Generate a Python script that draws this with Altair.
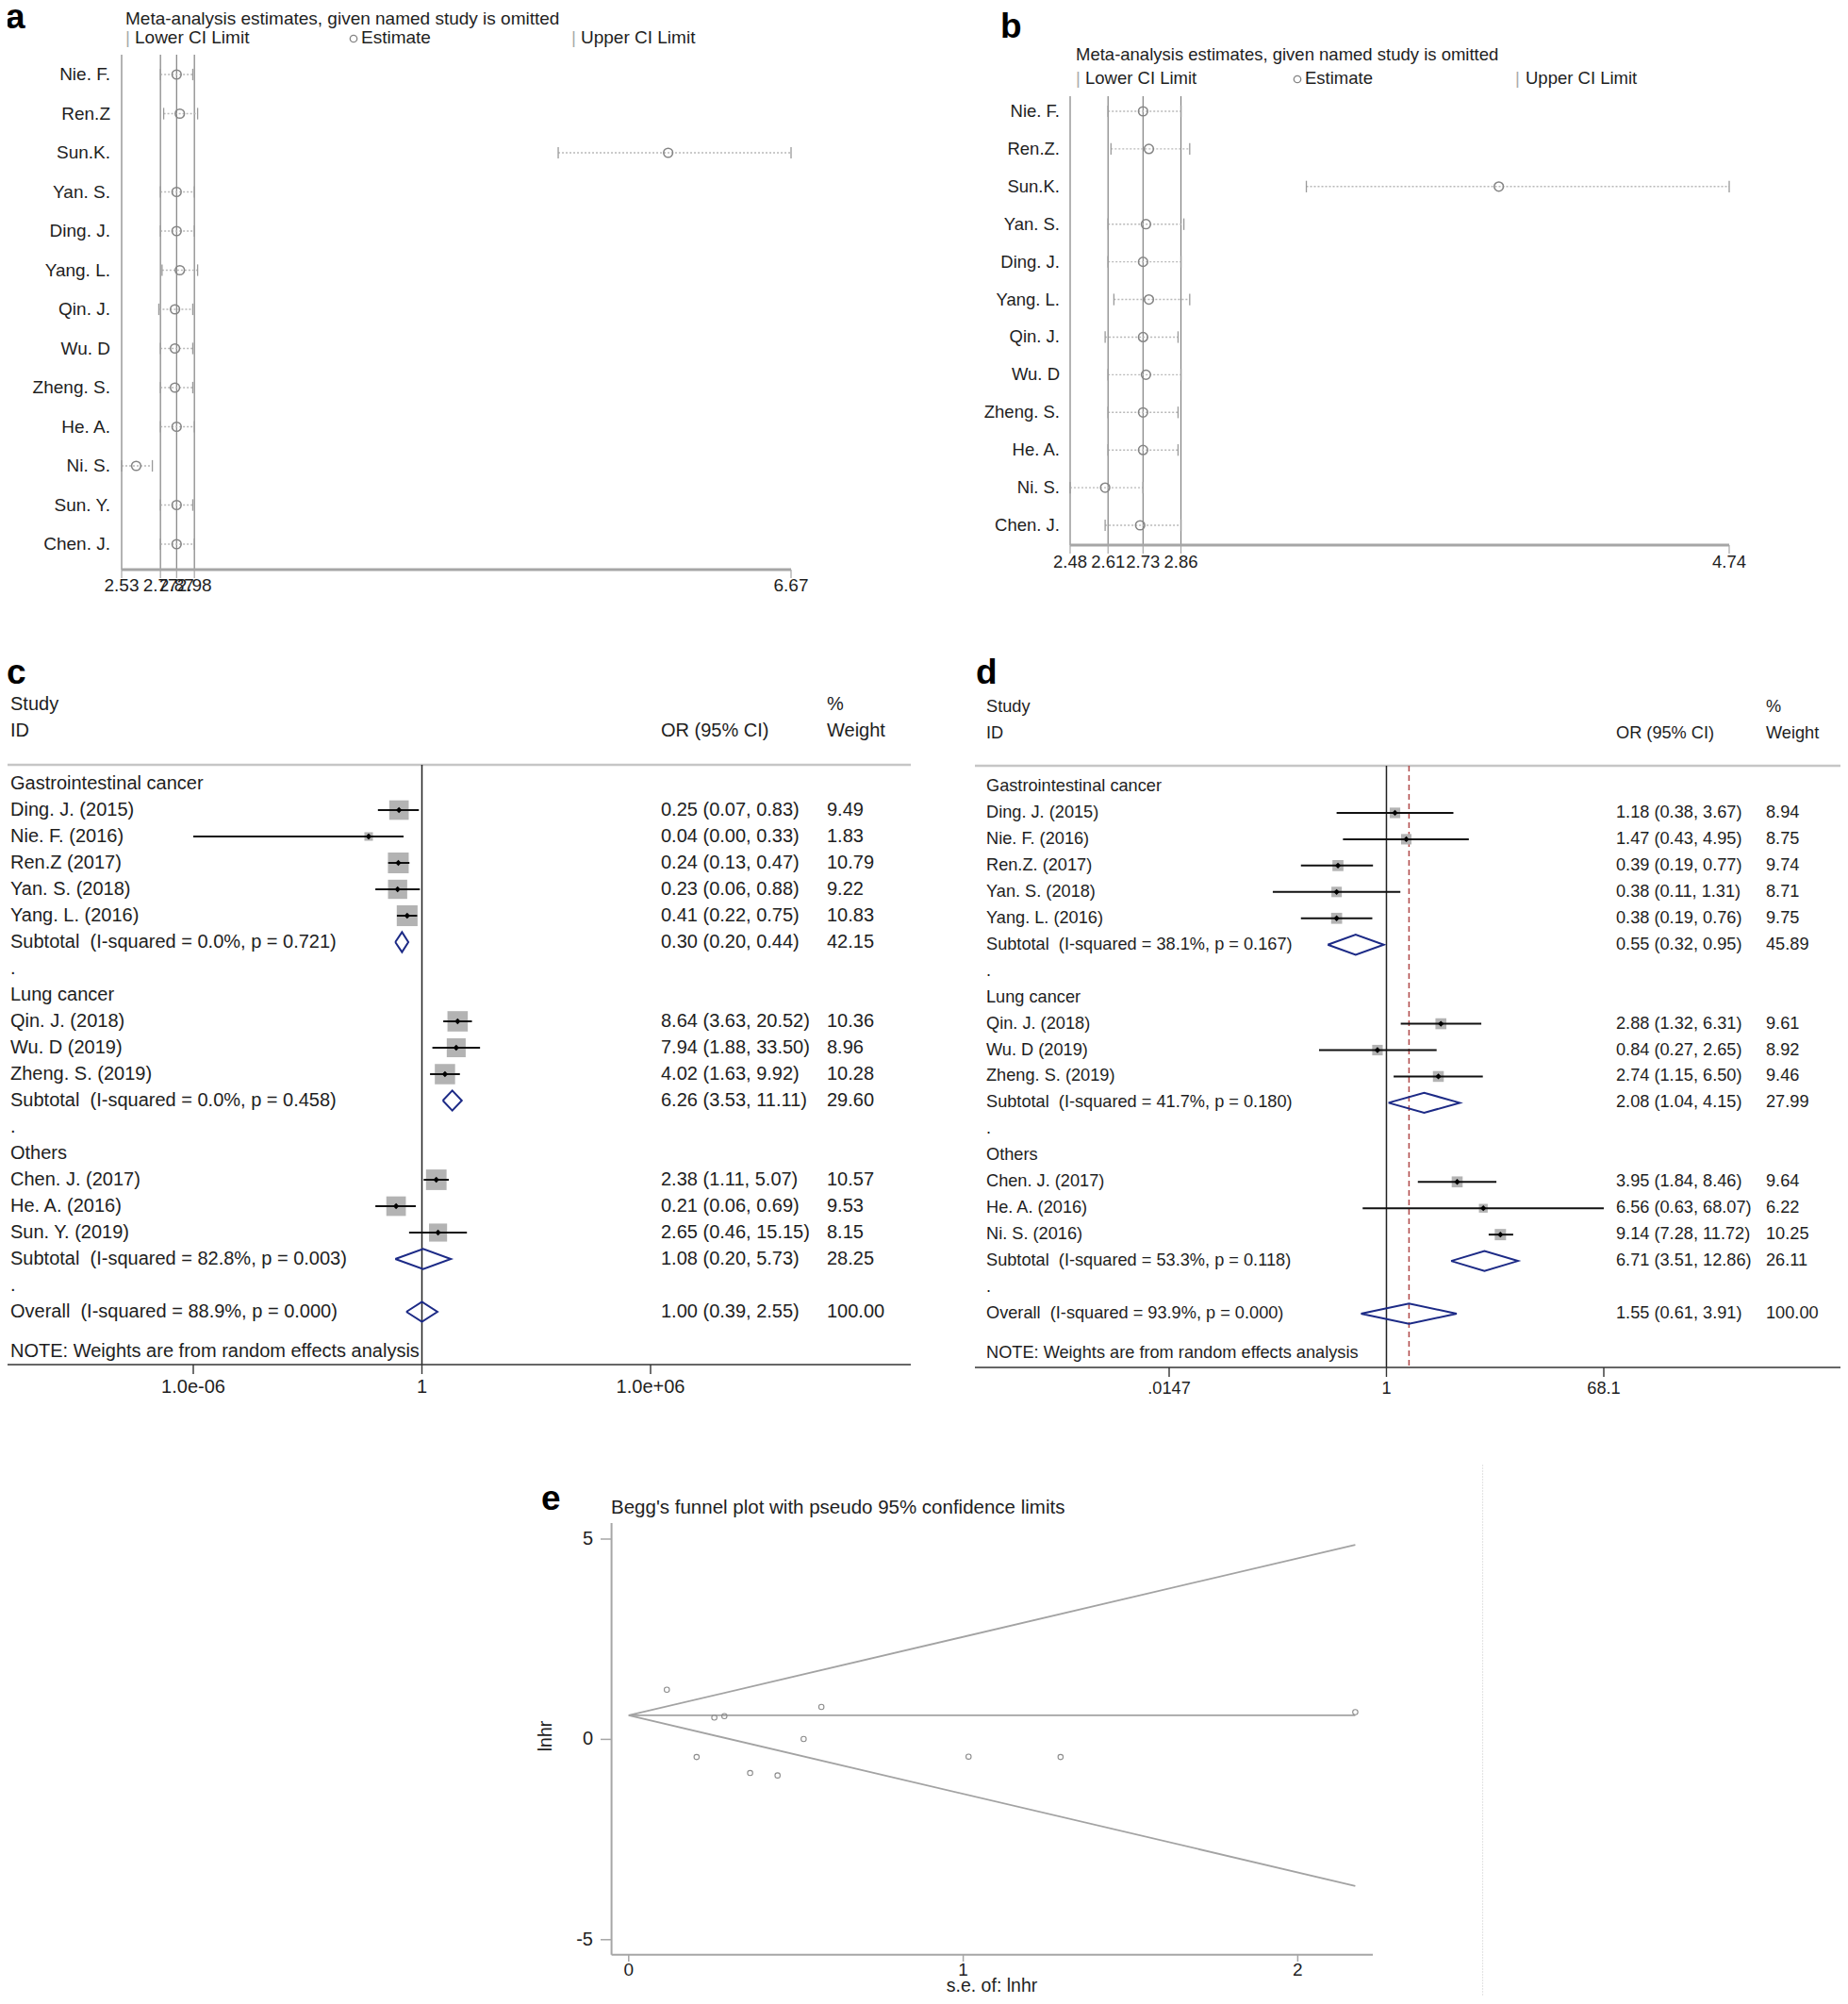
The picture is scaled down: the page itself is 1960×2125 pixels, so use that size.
import altair as alt
import pandas as pd

OFF = 8
W, H = 1944, 2109
FONT = "Liberation Sans, Arial, Helvetica, sans-serif"
INK = "#1e1e1e"
NAVY = "#1c2a86"

# ---------------- Panel a data ----------------
a_title = "Meta-analysis estimates, given named study is omitted"
a_studies = ["Nie. F.", "Ren.Z", "Sun.K.", "Yan. S.", "Ding. J.", "Yang. L.", "Qin. J.",
             "Wu. D", "Zheng. S.", "He. A.", "Ni. S.", "Sun. Y.", "Chen. J."]
a_low = [2.77, 2.79, 5.23, 2.77, 2.77, 2.78, 2.76, 2.77, 2.77, 2.77, 2.53, 2.77, 2.77]
a_est = [2.87, 2.89, 5.91, 2.87, 2.87, 2.89, 2.86, 2.86, 2.86, 2.87, 2.62, 2.87, 2.87]
a_up = [2.97, 3.00, 6.67, 2.98, 2.98, 3.00, 2.97, 2.97, 2.97, 2.98, 2.72, 2.97, 2.98]
a_ticks = [2.53, 2.77, 2.87, 2.98, 6.67]
a_lines = [2.53, 2.77, 2.87, 2.98]

# ---------------- Panel b data ----------------
b_studies = ["Nie. F.", "Ren.Z.", "Sun.K.", "Yan. S.", "Ding. J.", "Yang. L.", "Qin. J.",
             "Wu. D", "Zheng. S.", "He. A.", "Ni. S.", "Chen. J."]
b_low = [2.61, 2.62, 3.29, 2.61, 2.61, 2.63, 2.60, 2.61, 2.61, 2.61, 2.48, 2.60]
b_est = [2.73, 2.75, 3.95, 2.74, 2.73, 2.75, 2.73, 2.74, 2.73, 2.73, 2.60, 2.72]
b_up = [2.86, 2.89, 4.74, 2.87, 2.86, 2.89, 2.85, 2.86, 2.85, 2.85, 2.73, 2.86]
b_ticks = [2.48, 2.61, 2.73, 2.86, 4.74]
b_lines = [2.48, 2.61, 2.73, 2.86]

legend_labels = ["Lower CI Limit", "Estimate", "Upper CI Limit"]

# ---------------- Panel c data ----------------
kinds = ["g", "s", "s", "s", "s", "s", "t", ".", "g", "s", "s", "s", "t", ".",
         "g", "s", "s", "s", "t", ".", "o"]
c_rows = ["Gastrointestinal cancer", "Ding. J. (2015)", "Nie. F. (2016)", "Ren.Z (2017)",
          "Yan. S. (2018)", "Yang. L. (2016)", "Subtotal  (I-squared = 0.0%, p = 0.721)", ".",
          "Lung cancer", "Qin. J. (2018)", "Wu. D (2019)", "Zheng. S. (2019)",
          "Subtotal  (I-squared = 0.0%, p = 0.458)", ".", "Others", "Chen. J. (2017)",
          "He. A. (2016)", "Sun. Y. (2019)", "Subtotal  (I-squared = 82.8%, p = 0.003)", ".",
          "Overall  (I-squared = 88.9%, p = 0.000)"]
c_or = [None, 0.25, 0.04, 0.24, 0.23, 0.41, 0.30, None, None, 8.64, 7.94, 4.02, 6.26, None,
        None, 2.38, 0.21, 2.65, 1.08, None, 1.00]
c_lo = [None, 0.07, 0.000001, 0.13, 0.06, 0.22, 0.20, None, None, 3.63, 1.88, 1.63, 3.53, None,
        None, 1.11, 0.06, 0.46, 0.20, None, 0.39]
c_hi = [None, 0.83, 0.33, 0.47, 0.88, 0.75, 0.44, None, None, 20.52, 33.50, 9.92, 11.11, None,
        None, 5.07, 0.69, 15.15, 5.73, None, 2.55]
c_wt = [None, 9.49, 1.83, 10.79, 9.22, 10.83, 42.15, None, None, 10.36, 8.96, 10.28, 29.60, None,
        None, 10.57, 9.53, 8.15, 28.25, None, 100.00]
c_ticks = [1e-6, 1.0, 1e6]
c_ticklabels = ["1.0e-06", "1", "1.0e+06"]

# ---------------- Panel d data ----------------
d_rows = ["Gastrointestinal cancer", "Ding. J. (2015)", "Nie. F. (2016)", "Ren.Z. (2017)",
          "Yan. S. (2018)", "Yang. L. (2016)", "Subtotal  (I-squared = 38.1%, p = 0.167)", ".",
          "Lung cancer", "Qin. J. (2018)", "Wu. D (2019)", "Zheng. S. (2019)",
          "Subtotal  (I-squared = 41.7%, p = 0.180)", ".", "Others", "Chen. J. (2017)",
          "He. A. (2016)", "Ni. S. (2016)", "Subtotal  (I-squared = 53.3%, p = 0.118)", ".",
          "Overall  (I-squared = 93.9%, p = 0.000)"]
d_or = [None, 1.18, 1.47, 0.39, 0.38, 0.38, 0.55, None, None, 2.88, 0.84, 2.74, 2.08, None,
        None, 3.95, 6.56, 9.14, 6.71, None, 1.55]
d_lo = [None, 0.38, 0.43, 0.19, 0.11, 0.19, 0.32, None, None, 1.32, 0.27, 1.15, 1.04, None,
        None, 1.84, 0.63, 7.28, 3.51, None, 0.61]
d_hi = [None, 3.67, 4.95, 0.77, 1.31, 0.76, 0.95, None, None, 6.31, 2.65, 6.50, 4.15, None,
        None, 8.46, 68.07, 11.72, 12.86, None, 3.91]
d_wt = [None, 8.94, 8.75, 9.74, 8.71, 9.75, 45.89, None, None, 9.61, 8.92, 9.46, 27.99, None,
        None, 9.64, 6.22, 10.25, 26.11, None, 100.00]
d_ticks = [0.0147, 1.0, 68.1]
d_ticklabels = [".0147", "1", "68.1"]

note_text = "NOTE: Weights are from random effects analysis"

# ---------------- Panel e data ----------------
e_title = "Begg's funnel plot with pseudo 95% confidence limits"
e_se = [0.114, 0.203, 0.256, 0.286, 0.363, 0.445, 0.523, 0.576, 1.016, 1.291, 2.172]
e_lnhr = [1.24, -0.44, 0.545, 0.58, -0.84, -0.90, 0.01, 0.81, -0.43, -0.44, 0.68]
e_pooled = 0.60
e_xticks = [0, 1, 2]
e_yticks = [-5, 0, 5]

layers = []


def px(v):
    return alt.value(v - OFF)


def lin(domain, rng):
    return alt.Scale(type="linear", domain=domain, range=[rng[0] - OFF, rng[1] - OFF],
                     nice=False, zero=False)


def logs(domain, rng):
    return alt.Scale(type="log", domain=domain, range=[rng[0] - OFF, rng[1] - OFF], nice=False)


def label(txt, x, y, size, align="left", weight="normal", color=INK, baseline="middle", angle=0):
    layers.append(
        alt.Chart(pd.DataFrame({"t": [txt]}))
        .mark_text(align=align, baseline=baseline, fontSize=size, fontWeight=weight,
                   color=color, font=FONT, angle=angle)
        .encode(x=px(x), y=px(y), text="t:N")
    )


def hrule(x1, x2, y, color, w, dash=None):
    kw = {} if dash is None else {"strokeDash": dash}
    layers.append(
        alt.Chart(pd.DataFrame({"k": [0]})).mark_rule(color=color, strokeWidth=w, **kw)
        .encode(x=px(x1), x2=px(x2), y=px(y))
    )


def vrule(x, y1, y2, color, w, dash=None):
    kw = {} if dash is None else {"strokeDash": dash}
    layers.append(
        alt.Chart(pd.DataFrame({"k": [0]})).mark_rule(color=color, strokeWidth=w, **kw)
        .encode(x=px(x), y=px(y1), y2=px(y2))
    )


def influence(studies, low, est, up, ticks, lines, xr, yr, vtop, axis_y, ticklab_y,
              lab_right, fs, title, title_y, title_x, leg_y, leg_x):
    n = len(studies)
    dom = [ticks[0], ticks[-1]]
    xs = lin(dom, xr)
    ys = lin([0, n - 1], yr)

    def X(f):
        return alt.X(f, type="quantitative", scale=xs, axis=None)

    Y = alt.Y("row:Q", scale=ys, axis=None)
    df = pd.DataFrame({"row": list(range(n)), "study": studies, "low": low, "est": est, "up": up})
    layers.append(alt.Chart(pd.DataFrame({"v": lines})).mark_rule(color="#808080", strokeWidth=1.2)
                  .encode(x=X("v"), y=px(vtop), y2=px(axis_y)))
    layers.append(alt.Chart(df).mark_rule(color="#b8b8b8", strokeWidth=1.4, strokeDash=[2, 2])
                  .encode(x=X("low"), x2=alt.X2("up:Q"), y=Y))
    caps = pd.DataFrame({"row": list(range(n)) * 2, "v": list(low) + list(up)})
    layers.append(alt.Chart(caps).mark_point(shape="M0,-1L0,1", size=150, filled=False,
                                             color="#9a9a9a", strokeWidth=1.3, opacity=1)
                  .encode(x=X("v"), y=Y))
    layers.append(alt.Chart(df).mark_point(shape="circle", size=95, filled=False, color="#858585",
                                           strokeWidth=1.5, opacity=1)
                  .encode(x=X("est"), y=Y))
    layers.append(alt.Chart(df).mark_text(align="right", baseline="middle", fontSize=fs,
                                          font=FONT, color=INK)
                  .encode(x=px(lab_right), y=Y, text="study:N"))
    ax = pd.DataFrame({"a": [dom[0]], "b": [dom[1]]})
    layers.append(alt.Chart(ax).mark_rule(color="#a6a6a6", strokeWidth=3)
                  .encode(x=X("a"), x2=alt.X2("b:Q"), y=px(axis_y)))
    tdf = pd.DataFrame({"v": ticks, "t": [f"{t:.2f}" for t in ticks]})
    layers.append(alt.Chart(tdf).mark_rule(color="#a6a6a6", strokeWidth=1.2)
                  .encode(x=X("v"), y=px(axis_y), y2=px(axis_y + 9)))
    layers.append(alt.Chart(tdf).mark_text(align="center", baseline="middle", fontSize=fs,
                                           font=FONT, color=INK)
                  .encode(x=X("v"), y=px(ticklab_y), text="t:N"))
    label(title, title_x, title_y, fs, baseline="alphabetic")
    bar1, t1, circ, t2, bar2, t3 = leg_x
    label("|", bar1, leg_y, fs, color="#aaaaaa")
    label(legend_labels[0], t1, leg_y, fs)
    layers.append(alt.Chart(pd.DataFrame({"k": [0]})).mark_point(shape="circle", size=55,
                                                                  filled=False, color="#858585",
                                                                  strokeWidth=1.3, opacity=1)
                  .encode(x=px(circ), y=px(leg_y + 1)))
    label(legend_labels[1], t2, leg_y, fs)
    label("|", bar2, leg_y, fs, color="#aaaaaa")
    label(legend_labels[2], t3, leg_y, fs)


def forest(rows, orv, lo, hi, wt, xdom, xr, yr, fs, lab_x, or_x, wt_x, hdr_y, hline_y,
           line_x, axis_y, ticks, ticklabels, ticklab_y, box_k, refline=None):
    n = len(rows)
    xs = logs(xdom, xr)
    ys = lin([0, n - 1], yr)

    def X(f):
        return alt.X(f, type="quantitative", scale=xs, axis=None)

    def Y(f):
        return alt.Y(f, type="quantitative", scale=ys, axis=None)

    hrule(line_x[0], line_x[1], hline_y, "#c6c6c6", 2.5)
    layers.append(alt.Chart(pd.DataFrame({"v": [1.0]})).mark_rule(color="#222222", strokeWidth=1.5)
                  .encode(x=X("v"), y=px(hline_y), y2=px(axis_y)))
    if refline is not None:
        layers.append(alt.Chart(pd.DataFrame({"v": [refline]}))
                      .mark_rule(color="#b04848", strokeWidth=1.5, strokeDash=[6, 4])
                      .encode(x=X("v"), y=px(hline_y), y2=px(axis_y)))
    hrule(line_x[0], line_x[1], axis_y, "#333333", 1.6)
    tdf = pd.DataFrame({"v": ticks, "t": ticklabels})
    layers.append(alt.Chart(tdf).mark_rule(color="#333333", strokeWidth=1.4)
                  .encode(x=X("v"), y=px(axis_y), y2=px(axis_y + 10)))
    layers.append(alt.Chart(tdf).mark_text(align="center", baseline="middle", fontSize=fs,
                                           font=FONT, color=INK)
                  .encode(x=X("v"), y=px(ticklab_y), text="t:N"))

    st_idx = [i for i in range(n) if kinds[i] == "s"]
    st = pd.DataFrame({"row": st_idx, "or": [orv[i] for i in st_idx], "lo": [lo[i] for i in st_idx],
                       "hi": [hi[i] for i in st_idx], "area": [wt[i] * box_k for i in st_idx]})
    layers.append(alt.Chart(st).mark_square(color="#b3b3b3", opacity=1)
                  .encode(x=X("or"), y=Y("row"), size=alt.Size("area:Q", scale=None)))
    layers.append(alt.Chart(st).mark_rule(color="#111111", strokeWidth=2)
                  .encode(x=X("lo"), x2=alt.X2("hi:Q"), y=Y("row")))
    layers.append(alt.Chart(st).mark_point(shape="diamond", filled=True, color="#000000", size=40,
                                           opacity=1)
                  .encode(x=X("or"), y=Y("row")))

    dm_idx = [i for i in range(n) if kinds[i] in ("t", "o")]
    pts = []
    for i in dm_idx:
        verts = [(lo[i], i), (orv[i], i - 0.38), (hi[i], i), (orv[i], i + 0.38), (lo[i], i)]
        for k, (xv, yv) in enumerate(verts):
            pts.append({"row": i, "k": k, "x": xv, "y": yv})
    layers.append(alt.Chart(pd.DataFrame(pts)).mark_line(color=NAVY, strokeWidth=2)
                  .encode(x=X("x"), y=Y("y"), detail="row:N", order=alt.Order("k:Q")))

    lab = pd.DataFrame({"row": list(range(n)),
                        "lab": [r.replace("  ", "\u00a0\u00a0") for r in rows]})
    layers.append(alt.Chart(lab).mark_text(align="left", baseline="middle", fontSize=fs,
                                           font=FONT, color=INK)
                  .encode(x=px(lab_x), y=Y("row"), text="lab:N"))
    v_idx = [i for i in range(n) if orv[i] is not None]
    vals = pd.DataFrame({"row": v_idx,
                         "ci": [f"{orv[i]:.2f} ({lo[i]:.2f}, {hi[i]:.2f})" for i in v_idx],
                         "w": [f"{wt[i]:.2f}" for i in v_idx]})
    layers.append(alt.Chart(vals).mark_text(align="left", baseline="middle", fontSize=fs,
                                            font=FONT, color=INK)
                  .encode(x=px(or_x), y=Y("row"), text="ci:N"))
    layers.append(alt.Chart(vals).mark_text(align="left", baseline="middle", fontSize=fs,
                                            font=FONT, color=INK)
                  .encode(x=px(wt_x), y=Y("row"), text="w:N"))
    layers.append(alt.Chart(pd.DataFrame({"row": [n + 0.5], "t": [note_text]}))
                  .mark_text(align="left", baseline="middle", fontSize=fs, font=FONT, color=INK)
                  .encode(x=px(lab_x), y=Y("row"), text="t:N"))
    label("Study", lab_x, hdr_y[0], fs)
    label("ID", lab_x, hdr_y[1], fs)
    label("OR (95% CI)", or_x, hdr_y[1], fs)
    label("%", wt_x, hdr_y[0], fs)
    label("Weight", wt_x, hdr_y[1], fs)


LETTER = 37

# ---------------- Panel a ----------------
label("a", 6, 30, LETTER, weight="bold", baseline="alphabetic", color="#000000")
influence(a_studies, a_low, a_est, a_up, a_ticks, a_lines, xr=[129, 839], yr=[79, 577],
          vtop=58, axis_y=604, ticklab_y=621, lab_right=117, fs=19, title=a_title,
          title_y=25.5, title_x=133, leg_y=40, leg_x=(133, 143, 375, 383, 606, 616))

# ---------------- Panel b ----------------
label("b", 1061, 40, LETTER, weight="bold", baseline="alphabetic", color="#000000")
influence(b_studies, b_low, b_est, b_up, b_ticks, b_lines, xr=[1135, 1834], yr=[118, 557],
          vtop=102, axis_y=578, ticklab_y=596, lab_right=1124, fs=18.5, title=a_title,
          title_y=64, title_x=1141, leg_y=83, leg_x=(1141, 1151, 1376, 1384, 1607, 1618))

# ---------------- Panel c ----------------
label("c", 7, 725, LETTER, weight="bold", baseline="alphabetic", color="#000000")
forest(c_rows, c_or, c_lo, c_hi, c_wt, xdom=[1e-6, 1e6], xr=[205, 690], yr=[831, 1391], fs=20,
       lab_x=11, or_x=701, wt_x=877, hdr_y=(747, 775), hline_y=811, line_x=(0, 966),
       axis_y=1447, ticks=c_ticks, ticklabels=c_ticklabels, ticklab_y=1471, box_k=45)

# ---------------- Panel d ----------------
label("d", 1035, 725, LETTER, weight="bold", baseline="alphabetic", color="#000000")
forest(d_rows, d_or, d_lo, d_hi, d_wt, xdom=[0.0147, 68.1], xr=[1240, 1701], yr=[834, 1393],
       fs=18.2, lab_x=1046, or_x=1714, wt_x=1873, hdr_y=(750, 778), hline_y=812,
       line_x=(1034, 1952), axis_y=1450, ticks=d_ticks, ticklabels=d_ticklabels, ticklab_y=1473,
       box_k=14, refline=d_or[-1])

# ---------------- Panel e ----------------
label("e", 574, 1601, LETTER, weight="bold", baseline="alphabetic", color="#000000")
label(e_title, 648, 1605, 20.5, baseline="alphabetic")
exs = lin([0, 2], [666.8, 1376.4])
eys = lin([-5, 5], [2056.8, 1632.0])
smax = max(e_se)
fl = pd.DataFrame({
    "se": [0, smax, 0, smax, 0, smax],
    "v": [e_pooled, e_pooled + 1.96 * smax, e_pooled, e_pooled, e_pooled, e_pooled - 1.96 * smax],
    "ln": ["u", "u", "c", "c", "l", "l"],
})
layers.append(alt.Chart(fl).mark_line(color="#a3a3a3", strokeWidth=1.8)
              .encode(x=alt.X("se:Q", scale=exs, axis=None), y=alt.Y("v:Q", scale=eys, axis=None),
                      detail="ln:N"))
layers.append(alt.Chart(pd.DataFrame({"se": e_se, "v": e_lnhr}))
              .mark_point(shape="circle", size=30, filled=False, color="#8c8c8c", strokeWidth=1.1,
                          opacity=1)
              .encode(x=alt.X("se:Q", scale=exs, axis=None), y=alt.Y("v:Q", scale=eys, axis=None)))
vrule(648.6, 1615, 2072.8, "#a6a6a6", 2)
hrule(648.6, 1456, 2072.8, "#a6a6a6", 2)
ytk = pd.DataFrame({"v": e_yticks, "t": [str(v) for v in e_yticks]})
xtk = pd.DataFrame({"v": e_xticks, "t": [str(v) for v in e_xticks]})
layers.append(alt.Chart(ytk).mark_rule(color="#a6a6a6", strokeWidth=1.5)
              .encode(y=alt.Y("v:Q", scale=eys, axis=None), x=px(637), x2=px(648.6)))
layers.append(alt.Chart(ytk).mark_text(align="right", baseline="middle", fontSize=20, font=FONT,
                                       color=INK)
              .encode(y=alt.Y("v:Q", scale=eys, axis=None), x=px(629), text="t:N"))
layers.append(alt.Chart(xtk).mark_rule(color="#a6a6a6", strokeWidth=1.5)
              .encode(x=alt.X("v:Q", scale=exs, axis=None), y=px(2072.8), y2=px(2080)))
layers.append(alt.Chart(xtk).mark_text(align="center", baseline="middle", fontSize=19, font=FONT,
                                       color=INK)
              .encode(x=alt.X("v:Q", scale=exs, axis=None), y=px(2089), text="t:N"))
label("lnhr", 579, 1841, 19.5, align="center", angle=270)
label("s.e. of: lnhr", 1052, 2106, 19.5, align="center")
vrule(1572.5, 1553, 2125, "#e4e4e4", 1.2, dash=[2, 1])

chart = (
    alt.layer(*layers)
    .resolve_scale(x="independent", y="independent", size="independent")
    .properties(width=W, height=H, padding=0, autosize=alt.AutoSizeParams(type="none"))
    .configure_view(stroke=None)
)
chart.save("out.html", embed_options={"renderer": "svg", "actions": False})
